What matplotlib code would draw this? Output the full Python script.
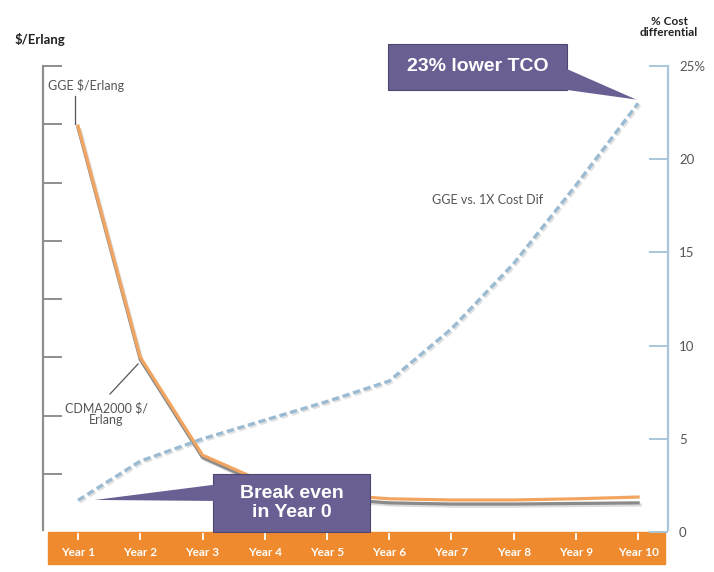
import numpy as np
import matplotlib.pyplot as plt
import matplotlib.transforms as mtransforms
import matplotlib.patheffects as pe
from matplotlib.patches import Rectangle, Polygon

# data
years = ['Year 1', 'Year 2', 'Year 3', 'Year 4', 'Year 5',
         'Year 6', 'Year 7', 'Year 8', 'Year 9', 'Year 10']
gge_cost = [6.97, 3.0, 1.32, 0.85, 0.65, 0.57, 0.55, 0.55, 0.57, 0.6]
cdma_cost = [6.94, 2.96, 1.28, 0.8, 0.58, 0.5, 0.48, 0.48, 0.49, 0.5]
cost_diff = [1.7, 3.8, 5.0, 6.0, 7.0, 8.1, 10.9, 14.4, 18.6, 23.0]
left_ticks = [1, 2, 3, 4, 5, 6, 7, 8]
right_ticks = [0, 5, 10, 15, 20, 25]
right_labels = ['0', '5', '10', '15', '20', '25%']

W, H = 714, 572
ORANGE = '#ef8a2e'
LINE_OR = '#f2a561'
PURPLE = '#6a5f92'
DASH = '#9bbbd3'
SPINE_R = '#a9c6da'
SPINE_L = '#8e8e8e'
FONT = ['Lato', 'DejaVu Sans']
BOXFONT = ['Liberation Sans', 'DejaVu Sans']


def fx(x):
    return x / W


def fy(y):
    return 1 - y / H


fig = plt.figure(figsize=(W / 100, H / 100), dpi=100)
ax = fig.add_axes([fx(43), fy(532), 625 / W, 466 / H])
ax.set_facecolor('none')
x = np.arange(1, len(years) + 1)
ax.set_xlim(0.437, 10.48)
ax.set_ylim(0, 8)

for s in ['top', 'right', 'bottom']:
    ax.spines[s].set_visible(False)
ax.spines['left'].set_color(SPINE_L)
ax.spines['left'].set_linewidth(1.6)
ax.spines['left'].set_bounds(0.03, 8)
ax.set_yticks(left_ticks)
ax.set_yticklabels([])
ax.tick_params(axis='y', direction='in', length=14, width=1.4, color=SPINE_L)
ax.set_xticks([])

# cost lines
shadow = [pe.SimpleLineShadow(offset=(1.5, -1.5), shadow_color='#999999', alpha=0.35), pe.Normal()]
ax.plot(x, cdma_cost, color='#8a8a8a', lw=2.3, zorder=3, path_effects=shadow)
ax.plot(x, gge_cost, color=LINE_OR, lw=2.3, zorder=4)

# right axis
ax2 = ax.twinx()
ax2.set_ylim(0, 25)
for s in ['top', 'left', 'bottom']:
    ax2.spines[s].set_visible(False)
ax2.spines['right'].set_color(SPINE_R)
ax2.spines['right'].set_linewidth(1.6)
ax2.spines['right'].set_bounds(0.1, 25)
ax2.set_yticks(right_ticks)
ax2.set_yticklabels(right_labels, family=FONT, fontsize=9.5, color='#555555')
ax2.tick_params(axis='y', direction='in', length=14, width=1.4, color=SPINE_R, pad=8)
ax2.plot(x, cost_diff, color=DASH, lw=2.4, dashes=[2.2, 1.1], zorder=5,
         solid_joinstyle='round', dash_joinstyle='round',
         path_effects=[pe.SimpleLineShadow(offset=(1.2, -1.2), shadow_color='#aaaaaa', alpha=0.35), pe.Normal()])

# orange year band
fig.patches.append(Rectangle((fx(48), fy(564)), (665 - 48) / W, 32 / H,
                             transform=fig.transFigure, color=ORANGE, zorder=-1))
band = mtransforms.blended_transform_factory(ax.transData, fig.transFigure)
ax.vlines(x, fy(540), fy(533), transform=band, color='white', lw=1.3, clip_on=False, zorder=6)
for xi, lab in zip(x, years):
    ax.text(xi, fy(552), lab, transform=band, ha='center', va='center', color='white',
            fontsize=8.5, fontweight='bold', family=FONT, clip_on=False, zorder=7)

# axis titles
fig.text(fx(15), fy(40), '$/Erlang', fontsize=9.5, fontweight='bold', family=FONT,
         color='#222222', va='center')
fig.text(fx(669), fy(27), '% Cost\ndifferential', fontsize=8.5, fontweight='bold',
         family=FONT, color='#222222', ha='center', va='center', linespacing=1.0)

# series labels
fig.text(fx(48), fy(86), 'GGE $/Erlang', fontsize=9, family=FONT, color='#555555', va='center')
ax.plot([75 / W, 75 / W], [fy(96), fy(124)], transform=fig.transFigure, color='#555555', lw=0.9)
fig.text(fx(106), fy(414), 'CDMA2000 $/\nErlang', fontsize=9, family=FONT, color='#555555',
         ha='center', va='center', linespacing=1.05)
ax.plot([110 / W, 138 / W], [fy(394), fy(364)], transform=fig.transFigure, color='#555555', lw=0.9)
fig.text(fx(488), fy(200), 'GGE vs. 1X Cost Dif', fontsize=9, family=FONT, color='#555555',
         ha='center', va='center')

# callouts
def callout(x0, y0, x1, y1, base, tip, text):
    fig.patches.append(Rectangle((fx(x0), fy(y1)), (x1 - x0) / W, (y1 - y0) / H,
                                 transform=fig.transFigure, facecolor=PURPLE,
                                 edgecolor='#4f4670', lw=0.8, zorder=10))
    pts = [(fx(base[0][0]), fy(base[0][1])), (fx(base[1][0]), fy(base[1][1])), tip]
    fig.patches.append(Polygon(pts, closed=True, transform=fig.transFigure,
                               facecolor=PURPLE, edgecolor='none', zorder=10))
    fig.text(fx((x0 + x1) / 2), fy((y0 + y1) / 2), text, ha='center', va='center',
             color='white', fontsize=14, fontweight='bold', family=BOXFONT, zorder=11,
             linespacing=1.15)


fig.canvas.draw()
inv = fig.transFigure.inverted()
tip_top = inv.transform(ax2.transData.transform((9.97, 23.2)))
tip_low = inv.transform(ax.transData.transform((1.27, 0.55)))
callout(388, 44, 567, 90, [(560, 66), (560, 89)], tip_top, '23% lower TCO')
callout(213, 474, 370, 532, [(220, 484), (220, 501)], tip_low, 'Break even\nin Year 0')

fig.savefig('out.png', dpi=100)
